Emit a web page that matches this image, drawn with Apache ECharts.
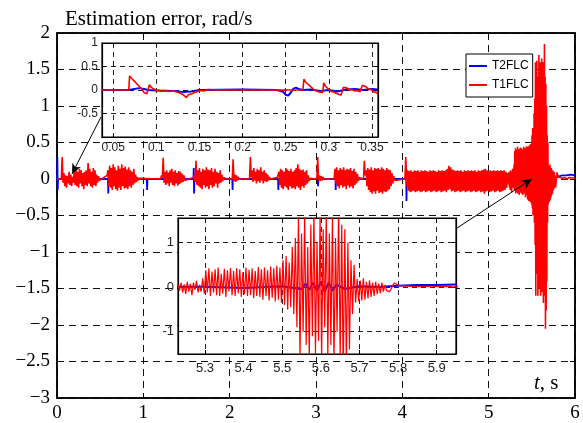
<!DOCTYPE html>
<html>
<head>
<meta charset="utf-8">
<script src="https://cdn.jsdelivr.net/npm/echarts@6/dist/echarts.min.js"></script>
<style>
  html, body { margin: 0; background: #fff; }
  #chart { width: 583px; height: 423px; }
</style>
</head>
<body>
<div id="chart"></div>
<script>
// ---- values ----

// T1FLC (red), main plot: oscillation bursts, [start time in s, samples every 10 ms]
const T1_STEP = 0.01;
const t1Bursts = [
  [0.05, [0, 0.3, -0.05, 0.08, -0.1, 0.05, -0.12, 0.04, -0.06, 0.1, -0.08, 0.06, -0.1, 0.03, -0.05, 0.12, -0.08, 0.15, -0.1, 0.1,
          -0.12, 0.14, -0.06, 0.12, -0.1, 0.08, -0.14, 0.1, -0.08, 0.12, -0.1, 0.22, -0.06, 0.14, -0.1, 0.1, -0.12, 0.15, -0.08, 0.12,
          -0.1, 0.06, -0.05, 0.04, -0.02, 0]],
  [0.58, [0.05, 0.12, -0.1, 0.18, -0.12, 0.15, -0.15, 0.2, -0.1, 0.16, -0.14, 0.12, -0.16, 0.18, -0.12, 0.14, -0.15, 0.2, -0.1, 0.15,
          -0.13, 0.17, -0.12, 0.13, -0.14, 0.16, -0.1, 0.12, -0.12, 0.1, -0.08, 0.14, -0.06, 0.06, -0.04, 0.03, -0.02, 0.01, 0, 0]],
  [1.20, [0, 0.05, 0.02, 0.29, -0.05, 0.1, -0.08, 0.12, -0.06, 0.09, -0.1, 0.12, -0.05, 0.14, -0.08, 0.1, -0.1, 0.12, -0.06, 0.08,
          -0.09, 0.11, -0.07, 0.1, -0.05, 0.07, -0.04, 0.05, -0.02, 0, 0]],
  [1.58, [0.02, 0.06, -0.04, 0.25, -0.08, 0.12, -0.1, 0.15, -0.12, 0.1, -0.14, 0.14, -0.08, 0.12, -0.12, 0.16, -0.1, 0.13, -0.14, 0.12,
          -0.08, 0.15, -0.12, 0.1, -0.1, 0.14, -0.06, 0.1, -0.12, 0.08, -0.06, 0.12, -0.05, 0.06, -0.03, 0.02, 0, 0, 0]],
  [2.03, [0, 0.27, -0.03, 0.06, -0.04, 0.05, -0.02, 0.03, 0, 0]],
  [2.23, [0, 0.3, 0.02, 0.12, -0.04, 0.15, -0.02, 0.1, -0.06, 0.14, -0.03, 0.12, -0.05, 0.16, -0.02, 0.1, -0.06, 0.12, -0.03, 0.08,
          -0.04, 0.06, -0.02, 0.03, 0, 0]],
  [2.55, [0.02, 0.05, 0.1, -0.08, 0.14, -0.12, 0.12, -0.14, 0.1, -0.1, 0.15, -0.12, 0.13, -0.15, 0.11, -0.1, 0.14, -0.13, 0.1, -0.12,
          0.12, -0.14, 0.15, -0.1, 0.2, -0.12, 0.14, -0.15, 0.12, -0.1, 0.13, -0.12, 0.1, -0.08, 0.12, -0.06, 0.05, -0.03, 0.01, 0]],
  [3.01, [0, 0.3, -0.02, 0.05, -0.03, 0.04, -0.02, 0.03, 0, 0]],
  [3.21, [0, 0.14, -0.06, 0.16, -0.1, 0.12, -0.13, 0.15, -0.08, 0.13, -0.12, 0.16, -0.1, 0.12, -0.14, 0.14, -0.09, 0.13, -0.12, 0.15,
          -0.1, 0.11, -0.13, 0.14, -0.08, 0.1, -0.06, 0.07, -0.03, 0.02, 0, 0]],
  [3.55, [0, 0.25, 0.05, 0.12, -0.1, 0.15, -0.15, 0.13, -0.18, 0.16, -0.2, 0.12, -0.17, 0.15, -0.2, 0.14, -0.16, 0.15, -0.19, 0.13,
          -0.18, 0.16, -0.2, 0.14, -0.17, 0.12, -0.18, 0.15, -0.16, 0.13, -0.14, 0.12, -0.1, 0.08, -0.06, 0.04, -0.02, 0, 0]],
  [4.03, [0, 0.3, -0.1, 0.12, -0.16, 0.11, -0.18, 0.12, -0.17, 0.1,
          -0.16, 0.12, -0.18, 0.11, -0.17, 0.12, -0.16, 0.1, -0.18, 0.12,
          -0.17, 0.11, -0.16, 0.12, -0.18, 0.11, -0.17, 0.1, -0.16, 0.12,
          -0.18, 0.11, -0.17, 0.12, -0.16, 0.11, -0.18, 0.1, -0.17, 0.12,
          -0.16, 0.11, -0.18, 0.12, -0.17, 0.11, -0.16, 0.12, -0.18, 0.14,
          -0.15, 0.18, -0.14, 0.16, -0.17, 0.13, -0.16, 0.12, -0.18, 0.11,
          -0.17, 0.12, -0.16, 0.11, -0.18, 0.12, -0.17, 0.1, -0.16, 0.12,
          -0.18, 0.11, -0.17, 0.12, -0.16, 0.11, -0.18, 0.12, -0.17, 0.11,
          -0.16, 0.12, -0.18, 0.1, -0.17, 0.12, -0.16, 0.11, -0.18, 0.12,
          -0.17, 0.13, -0.2, 0.14, -0.17, 0.12, -0.16, 0.11, -0.18, 0.12,
          -0.17, 0.11, -0.16, 0.12, -0.18, 0.11, -0.17, 0.12, -0.16, 0.11,
          -0.18, 0.12, -0.17, 0.11, -0.16, 0.12, -0.15, 0.1, -0.12, 0.08]]
];

// T1FLC (red), 5.23–5.95 s window (second inset, also part of the main plot), samples every 4 ms
const T1_WIN_START = 5.23;
const T1_WIN_STEP = 0.004;
const t1Window = [
  0.05, -0.08, 0.1, -0.12, 0.06, -0.15, 0.12, -0.1, 0.08, -0.18, 0.1, -0.06, 0.14, -0.12, 0.05, -0.1, 0.2,
  -0.15, 0.38, -0.12, 0.42, -0.2, 0.35, -0.12, 0.4, -0.18, 0.44,
  -0.2, 0.3, -0.15, 0.41, -0.22, 0.38, -0.1, 0.43, -0.18, 0.36,
  -0.2, 0.42, -0.14, 0.4, -0.22, 0.33, -0.16, 0.44, -0.2, 0.39,
  -0.18, 0.42, -0.25, 0.36, -0.2, 0.45, -0.22, 0.4, -0.28, 0.44,
  -0.2, 0.38, -0.3, 0.46, -0.24, 0.42, -0.32, 0.48, -0.28, 0.44,
  -0.35, 0.6, -0.4, 0.7, -0.5, 0.55, -0.45, 0.9, -0.6, 1.1,
  -0.9, 1.6, -1.6, 1.2, -1.0, 1.62, -1.3, 0.9, -1.6, 1.4,
  -1.1, 1.7, -1.5, 1.0, -1.2, 1.6, -1.6, 1.3, -0.9, 1.65,
  -1.55, 1.2, -1.3, 1.6, -1.7, 1.1, -1.0, 1.85, -1.6, 1.4,
  -2.05, 1.3, -1.8, 1.0, -1.4,
  0.6, -0.6, 0.5,
  -0.35, 0.18, -0.32, 0.15, -0.3, 0.2, -0.28, 0.12, -0.25, 0.15,
  -0.22, 0.1, -0.2, 0.12, -0.16, 0.08, -0.14, 0.1, -0.1, 0.05,
  -0.08, -0.12, -0.1, -0.04, 0.04, 0.09, 0.1, 0.06,
  0.04, 0.03, 0.02, 0.03, 0.01, 0.02, 0.01, 0.02, 0, 0.01, 0.02, 0.01, 0, 0.01, 0.02, 0.01, 0, 0.01, 0.01,
  0.02, 0.01, 0, 0.01, 0.02, 0.01, 0.01, 0, 0.01, 0.02, 0.01, 0, 0.01, 0.01, 0.02, 0.01, 0, 0.01, 0.01
];
const t1Tail = [[6.0, 0.01]];

// T2FLC (blue), [t, value]
const t2Points = [
  [0, 0], [0.004, 0.3], [0.008, -0.15], [0.012, 0], [0.24, 0], [0.244, -0.1], [0.248, 0],
  [0.59, 0], [0.594, -0.2], [0.598, 0.1], [0.602, 0], [1.04, 0], [1.044, -0.15], [1.048, 0],
  [1.58, 0], [1.584, 0.15], [1.588, -0.2], [1.592, 0], [2.03, 0], [2.034, -0.15], [2.038, 0.1], [2.042, 0],
  [2.56, 0], [2.564, -0.15], [2.568, 0], [3.02, 0], [3.024, -0.1], [3.028, 0],
  [3.22, 0], [3.224, 0.12], [3.228, -0.15], [3.232, 0], [4.04, 0], [4.044, 0.15], [4.048, -0.3], [4.052, 0],
  [5.3, 0.01], [5.4, -0.02], [5.5, 0.02], [5.55, -0.05], [5.56, 0.08], [5.57, -0.06], [5.58, 0.1],
  [5.59, -0.08], [5.6, 0.12], [5.61, -0.1], [5.62, 0.1], [5.63, -0.08], [5.64, 0.06], [5.66, -0.04],
  [5.7, 0.02], [5.75, 0], [5.8, 0.03], [5.85, 0.05], [5.9, 0.05], [5.95, 0.06], [6, 0.05]
];

// first inset (0.037–0.357 s), [t, value]
const inset1Red = [
  [0.037, 0], [0.068, 0], [0.069, 0.3], [0.071, 0.25], [0.072, 0.27], [0.074, 0.2], [0.075, 0.22], [0.077, 0.14],
  [0.078, 0.16], [0.08, 0.08], [0.081, 0.1], [0.083, 0.02], [0.084, 0.03], [0.086, -0.06], [0.087, -0.04],
  [0.089, -0.08], [0.09, -0.05], [0.091, -0.085], [0.092, 0.11], [0.094, 0.06], [0.095, 0.08], [0.097, 0.02],
  [0.098, 0.03], [0.1, -0.01], [0.103, 0], [0.106, -0.03], [0.11, -0.01], [0.115, -0.03], [0.12, -0.02],
  [0.125, -0.05], [0.128, -0.07], [0.131, -0.1], [0.133, -0.09], [0.135, -0.16], [0.137, -0.1], [0.139, -0.13],
  [0.141, -0.08], [0.143, -0.1], [0.146, -0.04], [0.148, -0.05], [0.151, -0.01], [0.155, -0.02], [0.16, 0.01],
  [0.17, 0], [0.2, 0], [0.25, 0], [0.27, 0], [0.271, 0.23], [0.273, 0.17], [0.274, 0.19], [0.276, 0.12],
  [0.277, 0.14], [0.279, 0.07], [0.28, 0.09], [0.282, 0.02], [0.283, 0.04], [0.285, -0.02], [0.287, 0],
  [0.289, -0.04], [0.291, -0.02], [0.293, -0.05], [0.294, 0.15], [0.296, 0.08], [0.297, 0.12], [0.299, 0.03],
  [0.3, 0.06], [0.302, -0.02], [0.304, 0.01], [0.306, -0.05], [0.308, -0.03], [0.31, -0.08], [0.312, -0.06],
  [0.314, -0.11], [0.316, -0.13], [0.317, 0.06], [0.319, 0.03], [0.321, 0.04], [0.324, 0], [0.327, 0.01],
  [0.33, -0.02], [0.333, -0.01], [0.336, -0.04], [0.338, -0.04], [0.339, 0.1], [0.341, 0.06], [0.343, 0.07],
  [0.346, 0.02], [0.349, 0.01], [0.352, -0.04], [0.355, -0.05], [0.357, -0.09]
];
const inset1Blue = [
  [0.037, 0], [0.068, 0], [0.07, 0.03], [0.08, 0.04], [0.086, 0.02], [0.09, 0], [0.1, -0.01], [0.12, -0.02],
  [0.13, -0.04], [0.14, -0.03], [0.15, 0], [0.2, 0.01], [0.24, 0], [0.247, -0.04], [0.25, -0.1], [0.253, -0.12],
  [0.256, -0.05], [0.259, 0.03], [0.262, 0.05], [0.265, 0.02], [0.27, 0], [0.28, 0.01], [0.29, -0.02], [0.3, 0],
  [0.31, -0.03], [0.32, 0.01], [0.33, 0.02], [0.34, 0], [0.35, 0.02], [0.357, 0.01]
];

// tick values of the insets
const inset1XTicks = [0.05, 0.1, 0.15, 0.2, 0.25, 0.3, 0.35];
const inset2XTicks = [5.3, 5.4, 5.5, 5.6, 5.7, 5.8, 5.9];
const inset2YTicks = [-1, 0, 1];

// arrows from the insets to the zoomed regions, [from, to] in main-plot units
const arrowLinks = [
  [[0.51, 0.85], [0.174, 0.07]],
  [[4.61, -0.69], [5.5, 0.0]]
];

// ---- build the red series ----
const redMain = [[0, 0]];
t1Bursts.forEach(([t0, vals]) => {
  vals.forEach((v, i) => redMain.push([+(t0 + i * T1_STEP).toFixed(3), v]));
});
t1Window.forEach((v, i) => redMain.push([+(T1_WIN_START + i * T1_WIN_STEP).toFixed(3), v]));
t1Tail.forEach(p => redMain.push(p));

// ---- styling ----
const serif = "'Liberation Serif', 'Times New Roman', serif";
const narrow = "'Liberation Sans Narrow', 'Arial Narrow', 'Liberation Sans', sans-serif";
const mainDash = { color: '#111', width: 1, type: [7, 5] };
const insetDash = { color: '#222', width: 1, type: [5, 4] };
const minus = v => String(v).replace('-', '\u2212');

function mirror(axis, pos) {
  // tick-only copy of an axis for the opposite side of the box
  return Object.assign({}, axis, {
    position: pos,
    axisLabel: Object.assign({}, axis.axisLabel, { show: false }),
    splitLine: { show: false }
  });
}

const mainX = {
  type: 'value', gridIndex: 0, min: 0, max: 6, interval: 1,
  axisLine: { onZero: false, lineStyle: { color: '#000', width: 1.5 } },
  axisTick: { inside: true, length: 5, lineStyle: { color: '#000' } },
  axisLabel: { color: '#000', fontFamily: serif, fontSize: 19, margin: 6 },
  splitLine: { show: true, lineStyle: mainDash }
};
const mainY = {
  type: 'value', gridIndex: 0, min: -3, max: 2, interval: 0.5,
  axisLine: { show: true, onZero: false, lineStyle: { color: '#000', width: 1.5 } },
  axisTick: { show: true, inside: true, length: 5, lineStyle: { color: '#000' } },
  axisLabel: { color: '#000', fontFamily: serif, fontSize: 19, margin: 7, formatter: minus },
  splitLine: { show: true, lineStyle: mainDash }
};
const in1X = {
  type: 'value', gridIndex: 1, min: 0.037, max: 0.357, z: 11,
  axisLine: { onZero: false, lineStyle: { color: '#000', width: 1.2 } },
  axisTick: { inside: true, length: 3, customValues: inset1XTicks, lineStyle: { color: '#000' } },
  axisLabel: { customValues: inset1XTicks, color: '#222', fontFamily: narrow, fontSize: 12, margin: 5 },
  splitLine: { show: true, lineStyle: insetDash }
};
const in1Y = {
  type: 'value', gridIndex: 1, min: -1, max: 1, interval: 0.5, z: 11,
  axisLine: { show: true, onZero: false, lineStyle: { color: '#000', width: 1.2 } },
  axisTick: { show: true, inside: true, length: 3, lineStyle: { color: '#000' } },
  axisLabel: { showMinLabel: false, color: '#222', fontFamily: narrow, fontSize: 12, margin: 4 },
  splitLine: { show: true, lineStyle: insetDash }
};
const in2X = {
  type: 'value', gridIndex: 2, min: 5.23, max: 5.95, z: 11,
  axisLine: { onZero: false, lineStyle: { color: '#000', width: 1.2 } },
  axisTick: { inside: true, length: 4, customValues: inset2XTicks, lineStyle: { color: '#000' } },
  axisLabel: { customValues: inset2XTicks, color: '#222', fontFamily: narrow, fontSize: 13, margin: 8 },
  splitLine: { show: true, lineStyle: insetDash }
};
const in2Y = {
  type: 'value', gridIndex: 2, min: -1.5, max: 1.55, z: 11,
  axisLine: { show: true, onZero: false, lineStyle: { color: '#000', width: 1.2 } },
  axisTick: { show: true, inside: true, length: 4, customValues: inset2YTicks, lineStyle: { color: '#000' } },
  axisLabel: { customValues: inset2YTicks, color: '#222', fontFamily: narrow, fontSize: 13, margin: 4 },
  splitLine: { show: true, lineStyle: insetDash }
};

function line(name, color, data, xi, yi, z, width) {
  return {
    name, type: 'line', data, xAxisIndex: xi, yAxisIndex: yi, z,
    showSymbol: false, symbol: 'none', clip: true, animation: false, sampling: false,
    lineStyle: { color, width }, itemStyle: { color }
  };
}

const redMainSeries = line('T1FLC', '#ff0000', redMain, 0, 0, 3, 1.6);
redMainSeries.markLine = {
  silent: true, animation: false, symbol: ['none', 'arrow'], symbolSize: [7, 10],
  lineStyle: { color: '#000', width: 1, type: 'solid' }, label: { show: false },
  data: arrowLinks.map(([a, b]) => [{ coord: a }, { coord: b }])
};

const chart = echarts.init(document.getElementById('chart'), null, { renderer: 'canvas' });
chart.setOption({
  animation: false,
  backgroundColor: '#fff',
  title: {
    text: 'Estimation error, rad/s', left: 60, top: 4,
    textStyle: { fontFamily: serif, fontSize: 21, fontWeight: 'normal', color: '#000' }
  },
  legend: {
    data: [{ name: 'T2FLC', icon: 'rect' }, { name: 'T1FLC', icon: 'rect' }],
    orient: 'vertical', left: 466, top: 54, z: 20,
    padding: [6, 4, 6, 3], itemGap: 7, itemWidth: 18, itemHeight: 2,
    backgroundColor: '#fff', borderColor: '#000', borderWidth: 1, borderRadius: 0,
    textStyle: { fontFamily: narrow, fontSize: 12, color: '#000' }
  },
  grid: [
    { left: 57, top: 33, width: 518, height: 366, show: true, borderColor: '#000', borderWidth: 1.5, backgroundColor: '#fff' },
    { left: 102, top: 43, width: 276, height: 94, show: true, z: 10, borderColor: '#000', borderWidth: 1.2, backgroundColor: '#fff' },
    { left: 178, top: 218, width: 278, height: 136, show: true, z: 10, borderColor: '#000', borderWidth: 1.2, backgroundColor: '#fff' }
  ],
  xAxis: [mainX, mirror(mainX, 'top'), in1X, mirror(in1X, 'top'), in2X, mirror(in2X, 'top')],
  yAxis: [mainY, mirror(mainY, 'right'), in1Y, mirror(in1Y, 'right'), in2Y, mirror(in2Y, 'right')],
  graphic: [{
    type: 'text', left: 534, top: 373, z: 20,
    style: {
      text: '{i|t}, s', fill: '#000', font: '21px ' + serif,
      rich: { i: { fontStyle: 'italic', fontFamily: serif, fontSize: 21 } }
    }
  }],
  series: [
    line('T2FLC', '#0000ff', t2Points, 0, 0, 2, 1.8),
    redMainSeries,
    line('T2FLC', '#0000ff', inset1Blue, 2, 2, 12, 2),
    line('T1FLC', '#ff0000', inset1Red, 2, 2, 13, 1.6),
    line('T2FLC', '#0000ff', t2Points, 4, 4, 12, 2),
    line('T1FLC', '#ff0000', redMain, 4, 4, 13, 1.2)
  ]
});
</script>
</body>
</html>
